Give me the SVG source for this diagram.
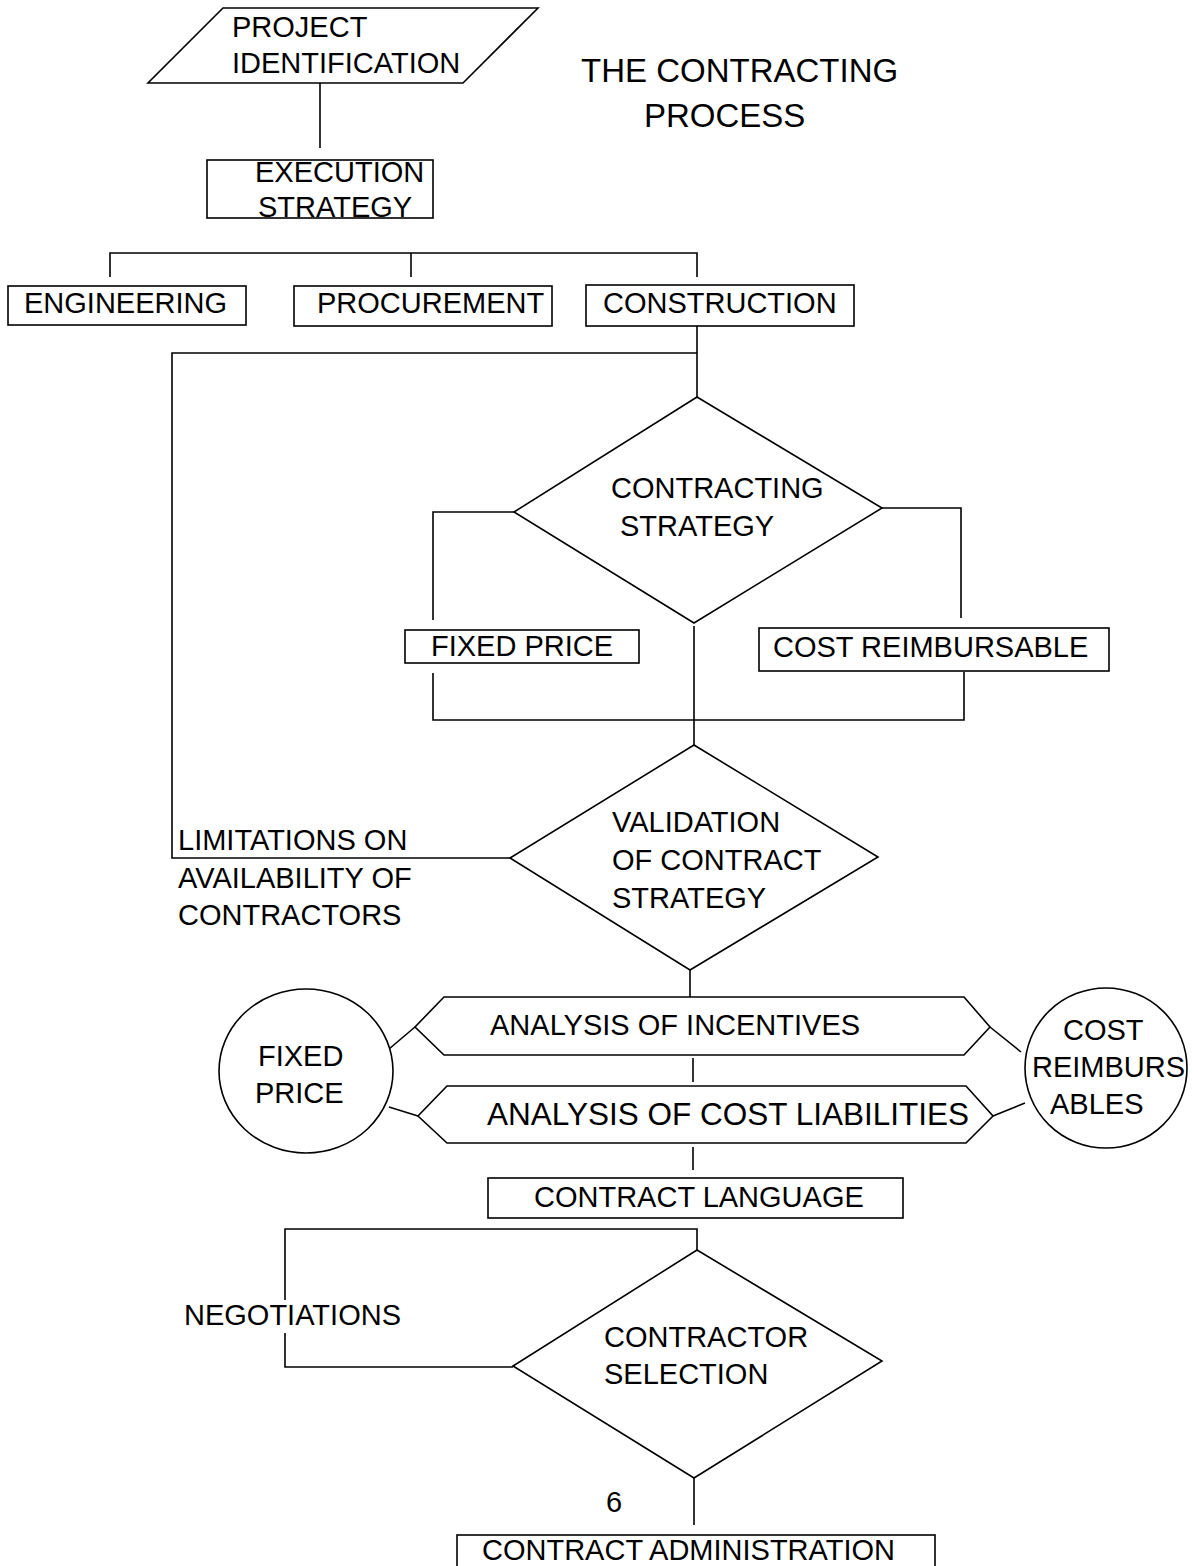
<svg xmlns="http://www.w3.org/2000/svg" width="1198" height="1566" viewBox="0 0 1198 1566">
<style>
.s{fill:none;stroke:#000;stroke-width:1.6}
.n{fill:#fff;stroke:#000;stroke-width:1.6}
text{font-family:"Liberation Sans",Arial,sans-serif;font-size:29px;fill:#000}
.big{font-size:31.5px}
.title{font-size:33px}
</style>
<rect width="1198" height="1566" fill="#fff"/>
<g id="connectors" class="s">
<line x1="320" y1="83" x2="320" y2="148"/>
<polyline points="110,277 110,253 697,253 697,277"/>
<line x1="411" y1="253" x2="411" y2="277"/>
<line x1="697" y1="326" x2="697" y2="397"/>
<polyline points="697,353 172,353 172,858 510,858"/>
<polyline points="514,512 433,512 433,620"/>
<polyline points="882,508 961,508 961,618"/>
<polyline points="433,673 433,720 964,720 964,672"/>
<line x1="694" y1="626" x2="694" y2="745"/>
<line x1="690" y1="970" x2="690" y2="997"/>
<line x1="693" y1="1058" x2="693" y2="1082"/>
<line x1="693" y1="1147" x2="693" y2="1170"/>
<line x1="389" y1="1049" x2="415" y2="1027"/>
<line x1="389" y1="1107" x2="418" y2="1116"/>
<line x1="990" y1="1027" x2="1021" y2="1052"/>
<line x1="993" y1="1116" x2="1025" y2="1103"/>
<polyline points="697,1250 697,1229 285,1229 285,1300"/>
<polyline points="285,1333 285,1367 513,1367"/>
<line x1="694" y1="1478" x2="694" y2="1525"/>
</g>
<g id="project-identification">
<polygon class="n" points="223,8 538,8 463,83 148,83"/>
<text x="232" y="37">PROJECT</text>
<text x="232" y="73">IDENTIFICATION</text>
</g>
<g id="title">
<text class="title" x="581" y="82">THE CONTRACTING</text>
<text class="title" x="644" y="127">PROCESS</text>
</g>
<g id="execution-strategy">
<rect class="n" x="207" y="160" width="226" height="58"/>
<text x="255" y="182">EXECUTION</text>
<text x="258" y="217">STRATEGY</text>
</g>
<g id="engineering">
<rect class="n" x="8" y="286" width="238" height="39"/>
<text x="24" y="313">ENGINEERING</text>
</g>
<g id="procurement">
<rect class="n" x="294" y="286" width="258" height="40"/>
<text x="317" y="313">PROCUREMENT</text>
</g>
<g id="construction">
<rect class="n" x="586" y="285" width="268" height="41"/>
<text x="603" y="313">CONSTRUCTION</text>
</g>
<g id="contracting-strategy">
<polygon class="n" points="697,397 882,508 694,623 514,512"/>
<text x="611" y="498">CONTRACTING</text>
<text x="620" y="536">STRATEGY</text>
</g>
<g id="fixed-price-1">
<rect class="n" x="405" y="630" width="234" height="33"/>
<text x="431" y="656">FIXED PRICE</text>
</g>
<g id="cost-reimbursable">
<rect class="n" x="759" y="628" width="350" height="43"/>
<text x="773" y="657">COST REIMBURSABLE</text>
</g>
<g id="validation">
<polygon class="n" points="694,745 878,857 690,970 510,858"/>
<text x="612" y="832">VALIDATION</text>
<text x="612" y="870">OF CONTRACT</text>
<text x="612" y="908">STRATEGY</text>
</g>
<g id="limitations">
<text x="178" y="850">LIMITATIONS ON</text>
<text x="178" y="888">AVAILABILITY OF</text>
<text x="178" y="925">CONTRACTORS</text>
</g>
<g id="analysis-incentives">
<polygon class="n" points="444,997 964,997 990,1027 964,1055 444,1055 415,1027"/>
<text x="490" y="1035">ANALYSIS OF INCENTIVES</text>
</g>
<g id="analysis-liabilities">
<polygon class="n" points="447,1086 966,1086 993,1116 966,1143 447,1143 418,1116"/>
<text class="big" x="487" y="1125">ANALYSIS OF COST LIABILITIES</text>
</g>
<g id="fixed-price-2">
<ellipse class="n" cx="306" cy="1071" rx="87" ry="82"/>
<text x="258" y="1066">FIXED</text>
<text x="255" y="1103">PRICE</text>
</g>
<g id="cost-reimbursables">
<ellipse class="n" cx="1106" cy="1068" rx="81" ry="80"/>
<text x="1063" y="1040">COST</text>
<text x="1032" y="1077">REIMBURS</text>
<text x="1050" y="1114">ABLES</text>
</g>
<g id="contract-language">
<rect class="n" x="488" y="1178" width="415" height="40"/>
<text x="534" y="1207">CONTRACT LANGUAGE</text>
</g>
<g id="negotiations">
<text x="184" y="1325">NEGOTIATIONS</text>
</g>
<g id="contractor-selection">
<polygon class="n" points="697,1250 882,1361 694,1478 513,1366"/>
<text x="604" y="1347">CONTRACTOR</text>
<text x="604" y="1384">SELECTION</text>
</g>
<g id="page-number">
<text x="606" y="1512">6</text>
</g>
<g id="contract-administration">
<rect class="n" x="457" y="1535" width="478" height="40"/>
<text x="482" y="1560">CONTRACT ADMINISTRATION</text>
</g>
</svg>
